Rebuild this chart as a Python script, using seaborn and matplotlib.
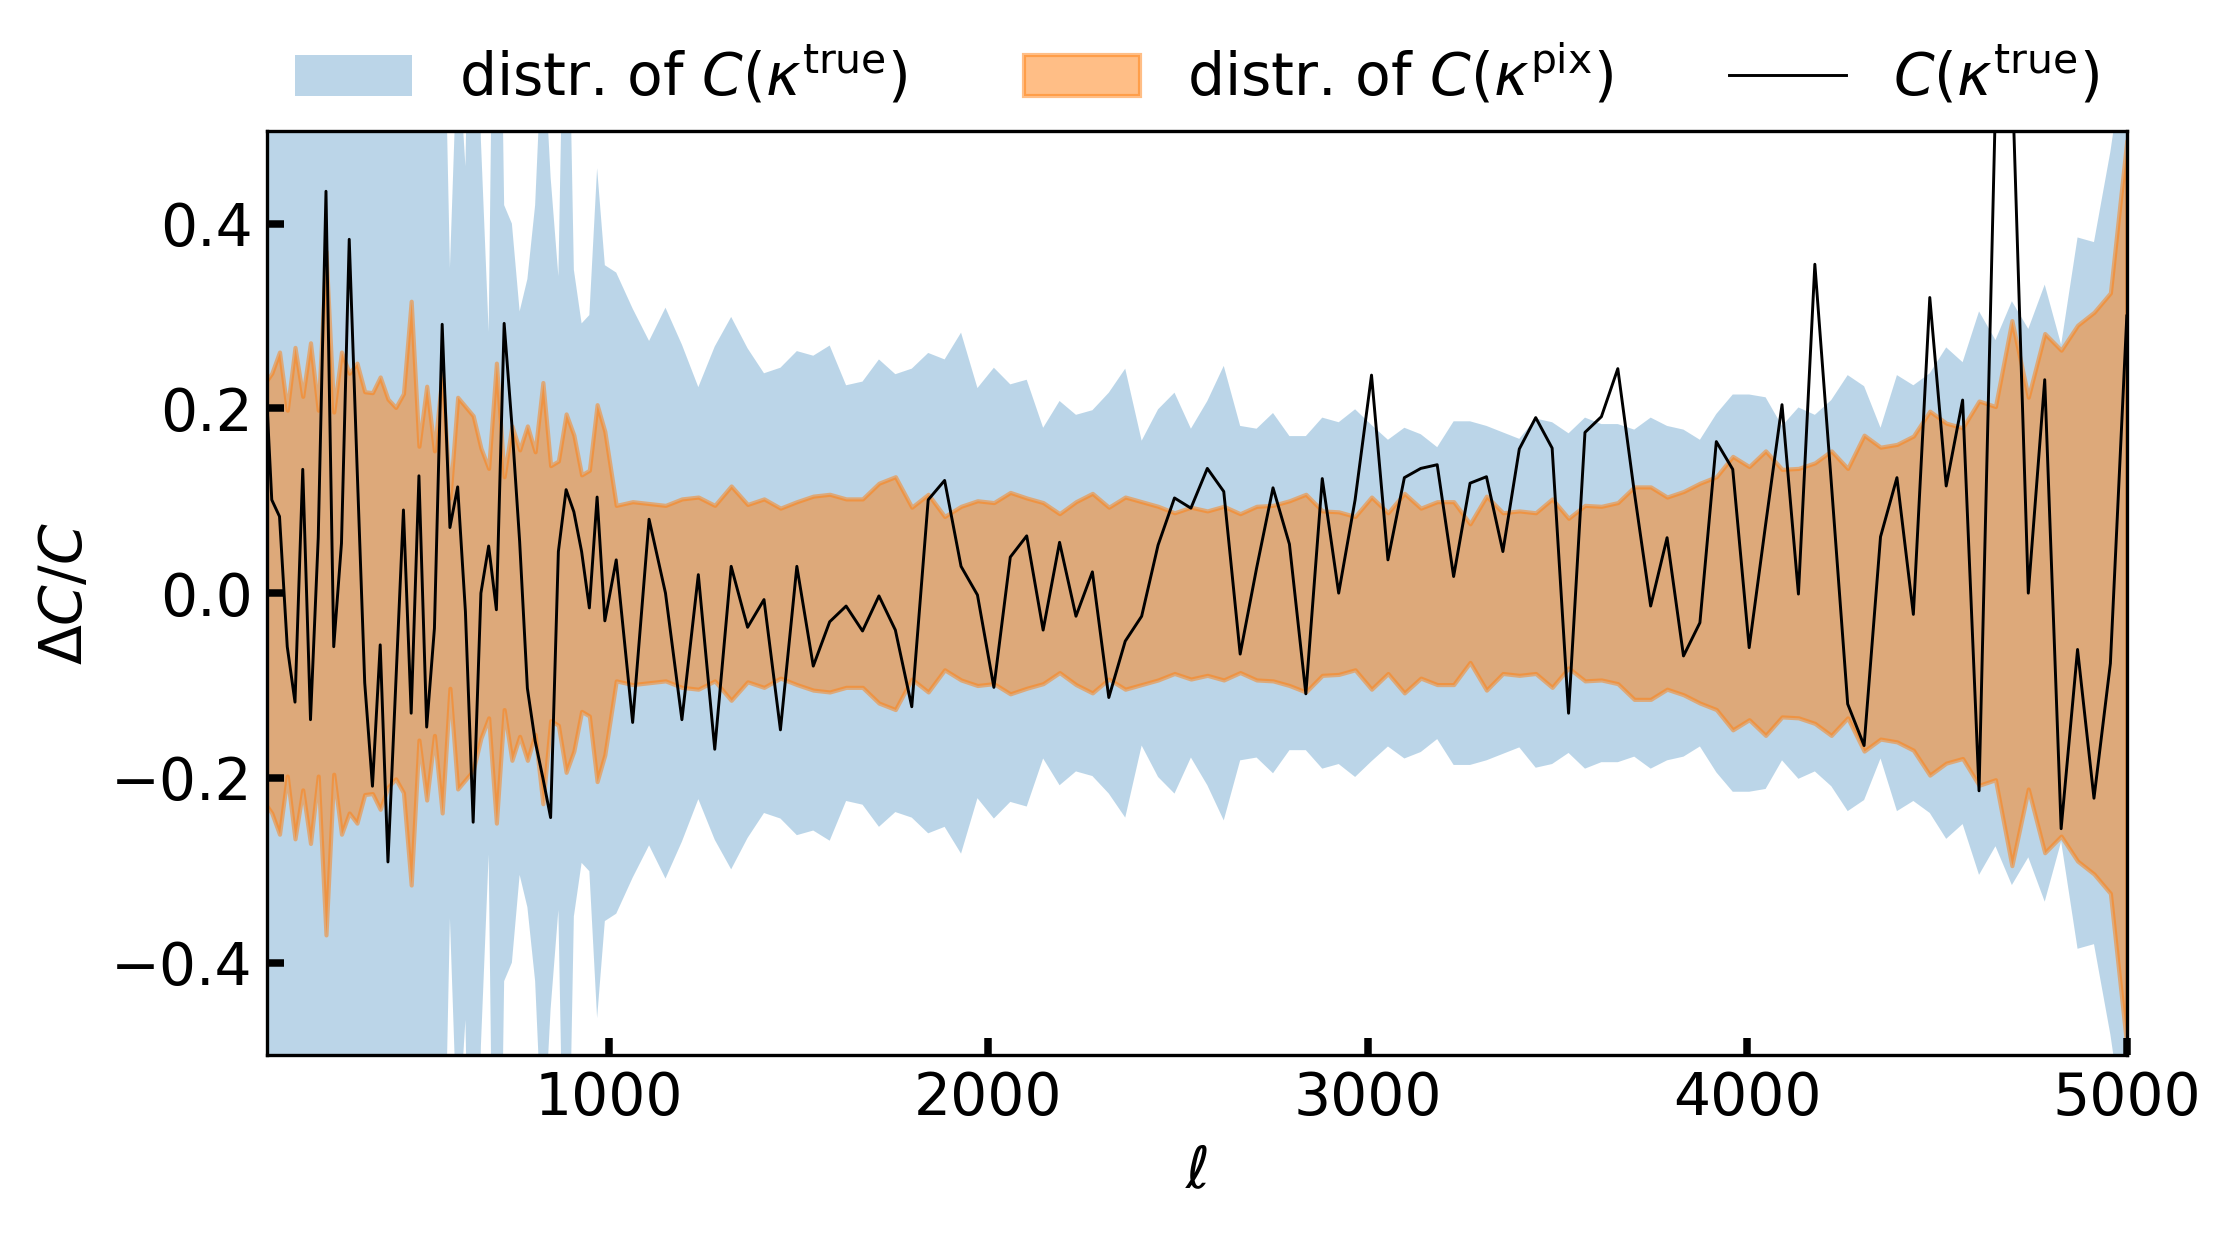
import numpy as np
import pandas as pd
import matplotlib
matplotlib.use("Agg")
import matplotlib.pyplot as plt
import seaborn as sns

# multipole bins: finer below l=1000, coarser above
n_lo, n_hi = 45, 93
ell_lo = np.linspace(92, 990, n_lo)
ell_hi = np.linspace(1020, 5000, n_hi)

# half-width of the band of C(kappa_true) (values above 0.5 are clipped by the axes)
sig_true_lo = [0.70, 0.90, 0.80, 1.10, 0.80, 0.90, 1.00, 0.80, 1.20, 0.90,
               0.80, 1.00, 0.90, 0.80, 1.10, 0.90, 0.80, 1.00, 0.90, 1.10,
               0.80, 1.00, 0.90, 0.76, 0.352, 0.60, 0.462, 0.90, 0.49, 0.283,
               1.00, 0.42, 0.40, 0.305, 0.34, 0.42, 0.61, 0.45, 0.343, 0.80,
               0.35, 0.292, 0.301, 0.46, 0.355]
sig_true_hi = [0.347, 0.308, 0.273, 0.309, 0.269, 0.223, 0.267, 0.299, 0.265, 0.238,
               0.244, 0.262, 0.257, 0.268, 0.225, 0.229, 0.253, 0.237, 0.243, 0.260,
               0.253, 0.282, 0.222, 0.244, 0.226, 0.231, 0.179, 0.208, 0.193, 0.198,
               0.217, 0.243, 0.165, 0.199, 0.217, 0.178, 0.208, 0.246, 0.181, 0.178,
               0.195, 0.170, 0.170, 0.190, 0.185, 0.199, 0.182, 0.166, 0.179, 0.172,
               0.158, 0.186, 0.186, 0.181, 0.174, 0.167, 0.189, 0.185, 0.173, 0.190,
               0.183, 0.183, 0.177, 0.190, 0.181, 0.177, 0.166, 0.194, 0.215, 0.215,
               0.212, 0.181, 0.201, 0.193, 0.209, 0.236, 0.224, 0.179, 0.236, 0.225,
               0.238, 0.266, 0.250, 0.305, 0.274, 0.316, 0.286, 0.334, 0.269, 0.385,
               0.380, 0.478, 0.600]

# half-width of the band of C(kappa_pix)
sig_pix_lo = [0.226, 0.238, 0.261, 0.198, 0.266, 0.213, 0.271, 0.198, 0.370, 0.196,
              0.261, 0.238, 0.249, 0.218, 0.217, 0.234, 0.210, 0.201, 0.216, 0.316,
              0.159, 0.224, 0.154, 0.238, 0.103, 0.212, 0.202, 0.192, 0.157, 0.135,
              0.249, 0.126, 0.181, 0.155, 0.181, 0.153, 0.228, 0.138, 0.143, 0.194,
              0.171, 0.128, 0.133, 0.204, 0.175]
sig_pix_hi = [0.095, 0.099, 0.097, 0.095, 0.102, 0.104, 0.095, 0.116, 0.096, 0.102,
              0.092, 0.099, 0.105, 0.107, 0.102, 0.102, 0.119, 0.126, 0.093, 0.107,
              0.083, 0.094, 0.100, 0.098, 0.109, 0.103, 0.098, 0.086, 0.099, 0.108,
              0.093, 0.104, 0.099, 0.094, 0.087, 0.093, 0.089, 0.094, 0.086, 0.094,
              0.095, 0.100, 0.107, 0.089, 0.088, 0.083, 0.104, 0.087, 0.108, 0.092,
              0.099, 0.099, 0.075, 0.105, 0.087, 0.089, 0.087, 0.102, 0.081, 0.095,
              0.094, 0.098, 0.115, 0.115, 0.104, 0.110, 0.119, 0.126, 0.148, 0.137,
              0.154, 0.134, 0.135, 0.141, 0.154, 0.135, 0.171, 0.158, 0.161, 0.170,
              0.197, 0.184, 0.179, 0.208, 0.202, 0.295, 0.212, 0.281, 0.263, 0.290,
              0.304, 0.325, 0.490]

# one realisation of C(kappa_true)
dc_true_lo = [0.270, 0.101, 0.083, -0.058, -0.118, 0.134, -0.137, 0.060, 0.435, -0.058,
              0.054, 0.383, 0.140, -0.097, -0.209, -0.056, -0.291, -0.100, 0.090, -0.130,
              0.127, -0.145, -0.038, 0.291, 0.071, 0.115, -0.020, -0.248, 0.000, 0.051,
              -0.018, 0.292, 0.182, 0.056, -0.103, -0.160, -0.200, -0.243, 0.045, 0.112,
              0.088, 0.045, -0.016, 0.104, -0.030]
dc_true_hi = [0.036, -0.140, 0.080, 0.000, -0.137, 0.020, -0.169, 0.029, -0.037, -0.007,
              -0.148, 0.029, -0.079, -0.031, -0.014, -0.041, -0.003, -0.040, -0.123, 0.101,
              0.122, 0.029, -0.002, -0.102, 0.039, 0.062, -0.040, 0.055, -0.025, 0.023,
              -0.113, -0.052, -0.025, 0.052, 0.103, 0.092, 0.135, 0.110, -0.066, 0.027,
              0.114, 0.053, -0.109, 0.124, 0.000, 0.101, 0.236, 0.036, 0.125, 0.135,
              0.139, 0.018, 0.119, 0.126, 0.045, 0.156, 0.190, 0.157, -0.130, 0.174,
              0.191, 0.243, 0.110, -0.014, 0.060, -0.068, -0.032, 0.164, 0.134, -0.059,
              0.074, 0.204, -0.001, 0.356, 0.120, -0.120, -0.165, 0.061, 0.125, -0.023,
              0.320, 0.116, 0.209, -0.214, 0.530, 0.570, 0.000, 0.231, -0.255, -0.061,
              -0.222, -0.076, 0.300]

df = pd.DataFrame({
    "ell": np.concatenate([ell_lo, ell_hi]),
    "sig_true": sig_true_lo + sig_true_hi,
    "sig_pix": sig_pix_lo + sig_pix_hi,
    "dc_true": dc_true_lo + dc_true_hi,
})

plt.rcParams["font.size"] = 14
plt.rcParams["mathtext.fontset"] = "dejavusans"

fig = plt.figure(figsize=(2231 / 300, 1238 / 300), dpi=300)
ax = fig.add_axes([0.1197, 0.1478, 0.9533 - 0.1197, 0.894 - 0.1478])

h1 = ax.fill_between(df["ell"], -df["sig_true"], df["sig_true"],
                     color="tab:blue", alpha=0.3, lw=0,
                     label=r"distr. of $C(\kappa^{\rm true})$")
h2 = ax.fill_between(df["ell"], -df["sig_pix"], df["sig_pix"],
                     color="tab:orange", alpha=0.5, lw=1.0,
                     label=r"distr. of $C(\kappa^{\rm pix})$")
sns.lineplot(data=df, x="ell", y="dc_true", color="k", lw=0.7, sort=False,
             label=r"$C(\kappa^{\rm true})$", ax=ax, legend=False)
h3 = ax.lines[-1]

ax.set_xlim(100, 5000)
ax.set_ylim(-0.5, 0.5)
ax.set_xticks([1000, 2000, 3000, 4000, 5000])
ax.set_yticks([-0.4, -0.2, 0.0, 0.2, 0.4])
ax.tick_params(direction="in", length=4, width=1.8)
ax.set_xlabel(r"$\ell$")
ax.set_ylabel(r"$\Delta C/C$")

ax.legend(handles=[h1, h2, h3], loc="lower center", bbox_to_anchor=(0.5, 1.0),
          ncol=3, frameon=False, borderaxespad=0.0)

fig.savefig("out.png", dpi=300)
